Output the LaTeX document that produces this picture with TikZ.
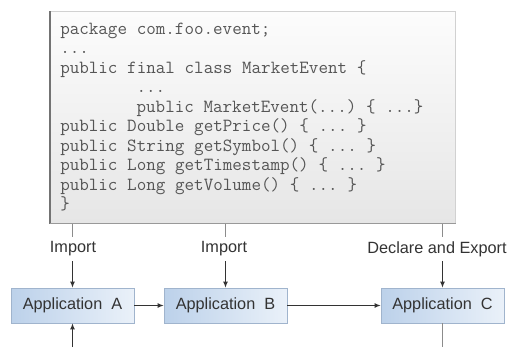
\documentclass[tikz,border=0pt]{standalone}
\usepackage{fontspec}
\setsansfont{Liberation Sans}
\usetikzlibrary{shadows,arrows.meta}

\definecolor{codetext}{RGB}{85,85,85}
\definecolor{codetop}{RGB}{252,252,252}
\definecolor{codebottom}{RGB}{230,230,230}
\definecolor{appleft}{RGB}{188,209,234}
\definecolor{appright}{RGB}{234,241,249}
\definecolor{appedge}{RGB}{160,180,205}

\newcommand\codespacing{\spaceskip=0.525em\relax\xspaceskip=0.525em\relax}

\begin{document}
\begin{tikzpicture}[x=0.75pt,y=0.75pt,yscale=-1,xscale=1,
  codebox/.style={draw=black!18, top color=codetop, bottom color=codebottom,
    anchor=north west, align=left, text width=288.75pt, inner xsep=7.5pt,
    minimum height=159pt, text=codetext,
    font=\ttfamily\fontsize{13.9}{14.63}\selectfont,
    execute at begin node=\codespacing},
  appbox/.style={draw=appedge, left color=appleft, right color=appright,
    minimum width=92.25pt, minimum height=26.25pt, inner sep=0pt, text=black!80,
    font=\sffamily\fontsize{12.2}{14}\selectfont,
    drop shadow={shadow xshift=0.8pt, shadow yshift=-0.8pt, opacity=0.35, fill=black!60}},
  linklabel/.style={minimum height=18pt, inner sep=0pt, text=black!80,
    font=\sffamily\fontsize{12.2}{14}\selectfont},
  feed/.style={draw=black!45, line width=0.75pt},
  flow/.style={-{Latex[length=4.5pt,width=3.6pt]}, draw=black!80, line width=0.75pt}]

\useasboundingbox (0, 0) rectangle (509, 347);

%%%%%%%%%%%%%%%%%%%%%%%%%%%%%%%%%%%%%%%%%%%%%%%%%%%%%%%%%%%%%%%%%%%%%%%%

\node [codebox] (code) at (50, 11) {package com.foo.event;\\
...\\
public final class MarketEvent \{\\
\phantom{00000000}...\\
\phantom{00000000}public MarketEvent(...) \{ ...\}\\
public Double getPrice() \{ ... \}\\
public String getSymbol() \{ ... \}\\
public Long getTimestamp() \{ ... \}\\
public Long getVolume() \{ ... \}\\
\}};
\draw [line width=1.5pt, draw=black!55] (code.north west) -- (code.south west);
\draw [line width=0.75pt, draw=black!40] (code.south west) -- (code.south east);

%%%%%%%%%%%%%%%%%%%%%%%%%%%%%%%%%%%%%%%%%%%%%%%%%%%%%%%%%%%%%%%%%%%%%%%%

\node [linklabel] (labA) at (73, 249) {Import};
\node [linklabel] (labB) at (224, 249) {Import};
\node [linklabel] (labC) at (437, 249) {Declare and Export};

\node [appbox] (appA) at (72.5, 305.5) {Application\ \ A};
\node [appbox] (appB) at (225.5, 305.5) {Application\ \ B};
\node [appbox] (appC) at (442.5, 305.5) {Application\ \ C};

\coordinate (srcA) at (72.5, 347);
\coordinate (outC) at (442.5, 347);

%%%%%%%%%%%%%%%%%%%%%%%%%%%%%%%%%%%%%%%%%%%%%%%%%%%%%%%%%%%%%%%%%%%%%%%%

\draw [feed] (code.south -| appA.north) -- (labA.north -| appA.north);
\draw [flow] (labA.south -| appA.north) -- (appA.north);

\draw [feed] (code.south -| appB.north) -- (labB.north -| appB.north);
\draw [flow] (labB.south -| appB.north) -- (appB.north);

\draw [feed] (code.south -| appC.north) -- (labC.north -| appC.north);
\draw [flow] (labC.south -| appC.north) -- (appC.north);

\draw [flow] (appA) -- (appB);
\draw [flow] (appB) -- (appC);

\draw [flow] (srcA) -- (appA.south);
\draw [feed] (appC.south) -- (outC);

%%%%%%%%%%%%%%%%%%%%%%%%%%%%%%%%%%%%%%%%%%%%%%%%%%%%%%%%%%%%%%%%%%%%%%%%

\end{tikzpicture}
\end{document}
